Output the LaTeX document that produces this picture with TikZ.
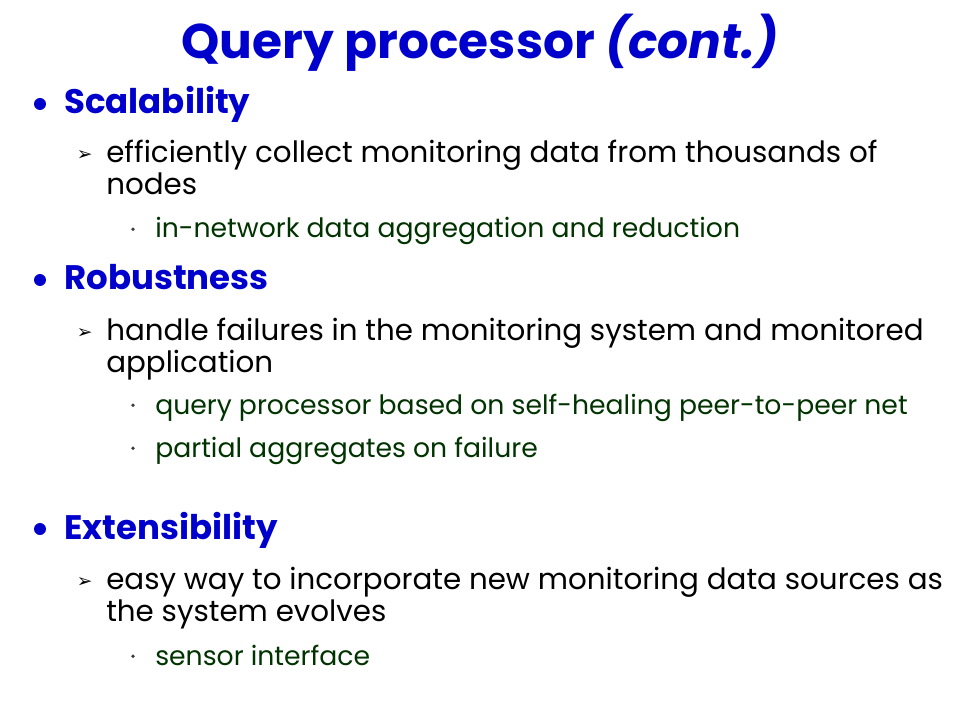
\documentclass[tikz,border=0pt]{standalone}
\usepackage{fontspec}
\setmainfont{Poppins}
\newfontfamily\symfont{DejaVu Sans}
\definecolor{slideblue}{RGB}{0, 0, 204}
\definecolor{slidegreen}{RGB}{0, 51, 0}
\definecolor{dotgray}{RGB}{60, 60, 60}

\begin{document}
\begin{tikzpicture}[x=0.75pt, y=-0.75pt]

\tikzstyle{title} = [anchor=base, slideblue, font=\fontsize{36.5}{44}\selectfont\bfseries]
\tikzstyle{head} = [anchor=base west, inner sep=0pt, slideblue, font=\fontsize{25.5}{30}\selectfont\bfseries]
\tikzstyle{sub} = [anchor=base west, inner sep=0pt, black, font=\fontsize{22}{26}\selectfont]
\tikzstyle{subsub} = [anchor=base west, inner sep=0pt, slidegreen, font=\fontsize{20}{24}\selectfont]

\useasboundingbox[fill=white] (0,0) rectangle (960,720);

\node[title] (title) at (480,59) {Query processor \textit{(cont.)}};

% Scalability
\node[head] (scal) at (64,114) {Scalability};
\node[sub] (scal1) at (106,163) {efficiently collect monitoring data from thousands of};
\node[sub] (scal1b) at (106,195) {nodes};
\node[subsub] (scal2) at (155,238) {in-network data aggregation and reduction};

% Robustness
\node[head] (rob) at (64,290) {Robustness};
\node[sub] (rob1) at (106,340) {handle failures in the monitoring system and monitored};
\node[sub] (rob1b) at (106,372) {application};
\node[subsub] (rob2) at (155,414) {query processor based on self-healing peer-to-peer net};
\node[subsub] (rob3) at (155,457) {partial aggregates on failure};

% Extensibility
\node[head] (ext) at (64,539) {Extensibility};
\node[sub] (ext1) at (106,589) {easy way to incorporate new monitoring data sources as};
\node[sub] (ext1b) at (106,621) {the system evolves};
\node[subsub] (ext2) at (155,665) {sensor interface};

% bullets
\foreach \n in {scal, rob, ext}
  \fill[slideblue] ([xshift=-18pt, yshift=7.5pt]\n.base west) circle (4.5pt);
\foreach \n in {scal1, rob1, ext1}
  \node[anchor=base east, inner sep=0pt, black, font=\symfont\fontsize{14}{16}\selectfont] at ([xshift=-10pt, yshift=1.5pt]\n.base west) {➢};
\foreach \n in {scal2, rob2, rob3, ext2}
  \fill[dotgray] ([xshift=-16.5pt, yshift=6.5pt]\n.base west) circle (1.4pt);

\end{tikzpicture}
\end{document}
